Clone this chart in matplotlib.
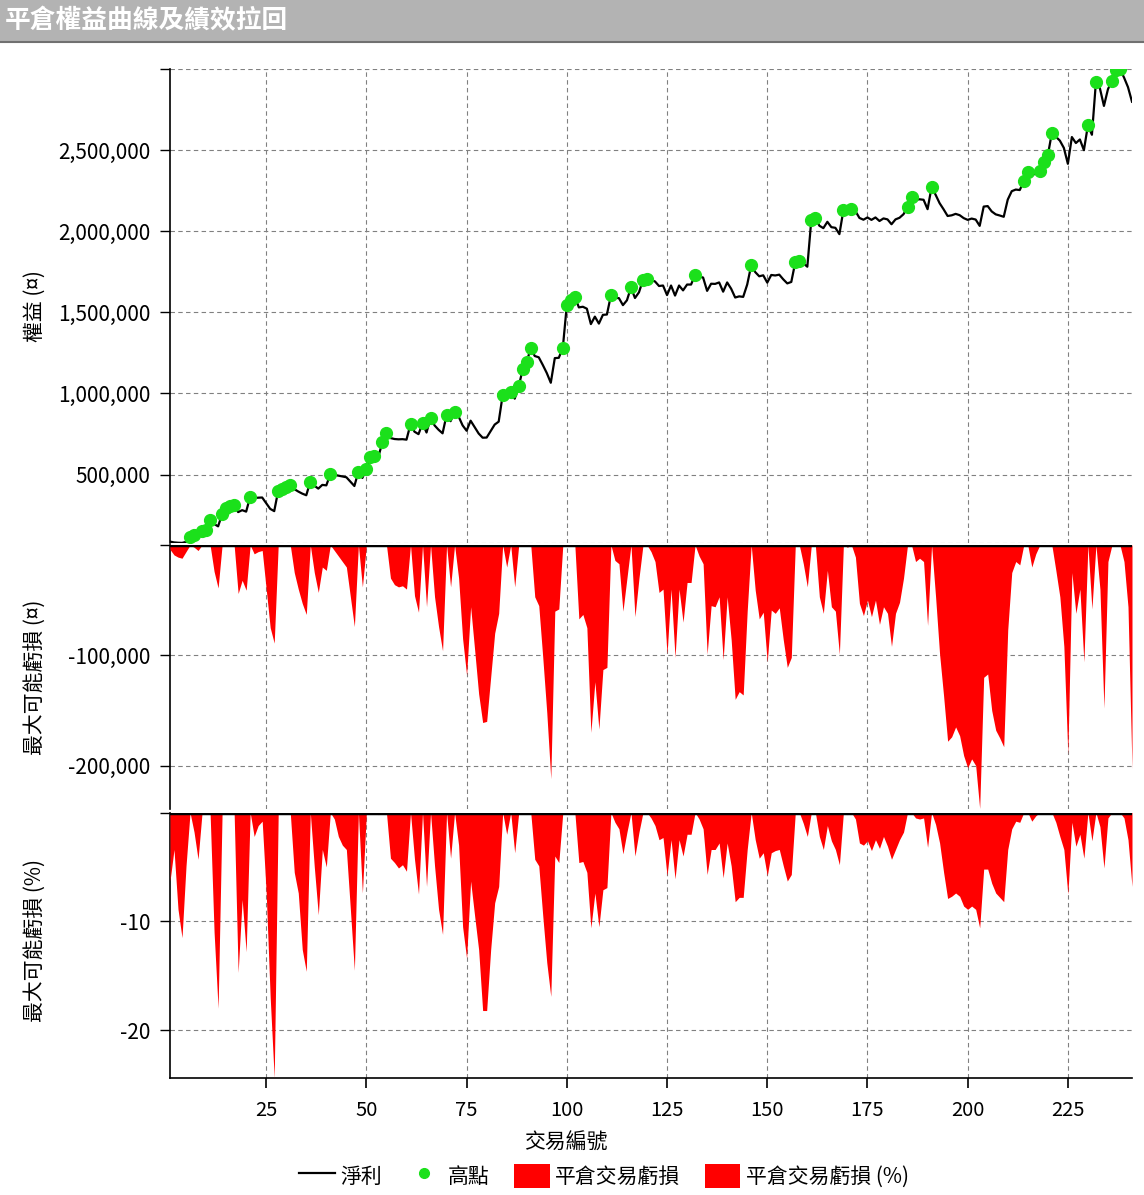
import matplotlib
matplotlib.use('Agg')
import matplotlib.pyplot as plt
from matplotlib.lines import Line2D
from matplotlib.patches import Patch, Rectangle

plt.rcParams['font.family'] = ['Noto Sans CJK TC', 'DejaVu Sans']

# net profit after each closed trade, in thousands
equity_k = [
    86, 81, 79, 78, 84, 116, 125, 120, 150, 157,
    219, 195, 180, 256, 293, 305, 312, 268, 280, 271,
    363, 355, 357, 358, 323, 288, 274, 400, 410, 425,
    435, 410, 395, 382, 372, 456, 431, 413, 436, 433,
    503, 498, 493, 488, 483, 456, 429, 517, 479, 534,
    608, 612, 611, 700, 755, 725, 719, 717, 718, 715,
    810, 764, 749, 815, 759, 850, 803, 776, 754, 867,
    829, 888, 858, 803, 770, 832, 793, 753, 727, 728,
    768, 808, 826, 990, 970, 1006, 968, 1043, 1150, 1197,
    1278, 1231, 1223, 1176, 1126, 1066, 1218, 1220, 1282, 1545,
    1578, 1598, 1531, 1535, 1523, 1428, 1474, 1431, 1485, 1487,
    1605, 1591, 1588, 1545, 1575, 1654, 1589, 1624, 1700, 1706,
    1700, 1691, 1663, 1666, 1607, 1666, 1604, 1666, 1636, 1672,
    1672, 1732, 1722, 1715, 1633, 1677, 1676, 1685, 1628, 1685,
    1646, 1592, 1599, 1596, 1672, 1790, 1749, 1723, 1729, 1684,
    1731, 1728, 1733, 1704, 1679, 1688, 1810, 1820, 1803, 1782,
    2072, 2082, 2035, 2020, 2059, 2026, 2022, 1983, 2130, 2128,
    2136, 2125, 2083, 2072, 2086, 2071, 2086, 2064, 2080, 2074,
    2044, 2074, 2084, 2106, 2150, 2210, 2195, 2198, 2195, 2137,
    2273, 2226, 2174, 2136, 2095, 2099, 2108, 2100, 2082, 2071,
    2079, 2073, 2034, 2153, 2156, 2123, 2105, 2098, 2090, 2196,
    2248, 2258, 2255, 2309, 2366, 2346, 2358, 2370, 2428, 2469,
    2607, 2584, 2560, 2515, 2417, 2582, 2545, 2567, 2501, 2654,
    2596, 2922, 2882, 2774, 2877, 2930, 2995, 3000, 2950, 2890,
    2800,
]

# trades that made a new equity high (green dots)
high_trades = [6, 7, 9, 10, 11, 14, 15, 16, 17, 21, 28, 29, 30, 31, 36, 41,
               48, 50, 51, 52, 54, 55, 61, 64, 66, 70, 72, 84, 86, 88, 89, 90,
               91, 99, 100, 101, 102, 111, 116, 119, 120, 132, 146, 157, 158,
               161, 162, 169, 171, 185, 186, 191, 214, 215, 218, 219, 220,
               221, 230, 232, 236, 237, 238]

# close trade drawdown, in thousands
drawdown_k = [
    -4, -9, -11, -12, -6, 0, -2, -5, 0, 0,
    0, -24, -39, 0, 0, 0, 0, -44, -32, -41,
    0, -8, -6, -5, -40, -75, -89, 0, 0, 0,
    0, -25, -40, -53, -63, 0, -25, -43, -20, -23,
    0, -5, -10, -15, -20, -47, -74, 0, -38, 0,
    0, 0, -1, 0, 0, -30, -36, -38, -37, -40,
    0, -46, -61, 0, -56, 0, -47, -74, -96, 0,
    -38, 0, -30, -85, -118, -56, -95, -135, -161, -160,
    -120, -80, -62, 0, -20, 0, -38, 0, 0, 0,
    0, -47, -55, -102, -152, -212, -60, -58, 0, 0,
    0, 0, -67, -63, -75, -170, -124, -167, -113, -111,
    0, -14, -17, -60, -30, 0, -65, -30, 0, 0,
    -6, -15, -43, -40, -99, -40, -102, -40, -70, -34,
    -34, 0, -10, -17, -99, -55, -56, -47, -104, -47,
    -86, -140, -133, -136, -60, 0, -41, -67, -61, -106,
    -59, -62, -57, -86, -111, -102, 0, 0, -17, -38,
    0, 0, -47, -62, -23, -56, -60, -99, 0, -2,
    0, -11, -53, -64, -50, -65, -50, -72, -56, -62,
    -92, -62, -52, -30, 0, 0, -15, -12, -15, -73,
    0, -47, -99, -137, -178, -174, -165, -173, -191, -202,
    -194, -200, -239, -120, -117, -150, -168, -175, -183, -77,
    -25, -15, -18, 0, 0, -20, -8, 0, 0, 0,
    0, -23, -47, -92, -190, -25, -62, -40, -106, 0,
    -58, 0, -40, -148, -15, 0, 0, 0, -15, -56,
    -203,
]

# close trade drawdown, percent
drawdown_pct = [
    -6.3, -3.4, -8.9, -11.5, -4.9, 0, -1.8, -4.3, 0, 0,
    0, -11.0, -18.0, 0, 0, 0, 0, -14.7, -8.0, -12.8,
    0, -2.2, -1.2, -0.8, -7.4, -17.0, -24.4, 0, 0, 0,
    0, -5.5, -7.4, -12.6, -14.6, 0, -5.0, -9.4, -3.4, -5.0,
    0, -0.6, -2.2, -3.0, -3.4, -8.9, -14.5, 0, -7.4, 0,
    0, 0, -0.2, 0, 0, -4.2, -4.6, -5.1, -4.8, -5.4,
    0, -4.3, -7.5, 0, -6.8, 0, -4.9, -8.9, -11.2, 0,
    -4.2, 0, -3.0, -10.5, -13.4, -6.3, -9.5, -12.6, -18.2, -18.2,
    -12.6, -8.3, -6.8, 0, -2.0, 0, -3.7, 0, 0, 0,
    0, -4.3, -4.9, -9.5, -13.8, -16.9, -4.0, -4.6, 0, 0,
    0, 0, -4.6, -4.5, -5.5, -10.6, -7.4, -10.5, -7.1, -6.9,
    0, -0.9, -1.5, -3.8, -1.8, 0, -4.0, -1.8, 0, 0,
    -0.5, -1.2, -2.5, -2.3, -5.8, -2.5, -6.1, -2.5, -4.0, -2.0,
    -2.0, 0, -0.6, -1.5, -5.7, -3.4, -3.4, -2.8, -6.0, -2.8,
    -4.9, -8.2, -7.8, -7.8, -3.4, 0, -2.5, -4.2, -3.7, -5.8,
    -3.7, -3.5, -3.4, -4.9, -6.3, -5.7, 0, 0, -1.0, -2.2,
    0, 0, -2.2, -3.4, -1.2, -2.6, -3.4, -4.8, 0, -0.2,
    0, -0.6, -2.8, -3.0, -2.6, -3.5, -2.5, -3.3, -2.2, -3.1,
    -4.3, -3.4, -2.5, -1.8, 0, 0, -0.5, -0.6, -0.5, -3.2,
    0, -1.1, -2.8, -5.5, -7.9, -7.7, -7.4, -7.7, -8.6, -8.9,
    -8.6, -8.9, -10.6, -5.2, -5.2, -6.5, -7.4, -7.8, -8.2, -3.4,
    -1.5, -0.8, -0.9, 0, 0, -0.8, -0.3, 0, 0, 0,
    0, -0.9, -2.2, -3.4, -7.5, -0.9, -3.1, -2.0, -4.2, 0,
    -2.6, 0, -1.3, -5.1, -0.5, 0, 0, 0, -0.5, -2.5,
    -6.8,
]

x_ticks = [25, 50, 75, 100, 125, 150, 175, 200, 225]
equity_ticks = [500000, 1000000, 1500000, 2000000, 2500000, 3000000]
dd_ticks = [-200000, -100000, 0]
pct_ticks = [-20, -10, 0]

trades = list(range(1, len(equity_k) + 1))
equity = [v * 1000 for v in equity_k]
drawdown = [v * 1000 for v in drawdown_k]
high_vals = [equity[t - 1] for t in high_trades]

W, H = 1144, 1195
fig = plt.figure(figsize=(W / 100, H / 100), dpi=100)

# gray title bar
fig.patches.append(Rectangle((0, 1 - 42 / H), 1, 42 / H, transform=fig.transFigure,
                             facecolor='#b3b3b3', edgecolor='none'))
fig.lines.append(Line2D([0, 1], [1 - 42 / H, 1 - 42 / H], transform=fig.transFigure,
                        color='#707070', lw=1.5))
fig.text(5 / W, 1 - 21 / H, '平倉權益曲線及績效拉回', color='white', fontsize=18.5,
         fontweight='bold', va='center', ha='left')


def px_axes(top, bottom, left=170, right=1132):
    return [left / W, 1 - bottom / H, (right - left) / W, (bottom - top) / H]


ax1 = fig.add_axes(px_axes(69.3, 542.9))
ax2 = fig.add_axes(px_axes(545, 808.5))
ax3 = fig.add_axes(px_axes(812.5, 1078))

green = '#1be01b'
grid_kw = dict(color='#808080', linestyle=(0, (4, 3)), linewidth=0.8)

for ax in (ax1, ax2, ax3):
    ax.set_xlim(1, len(trades))
    ax.set_xticks(x_ticks)
    ax.grid(True, **grid_kw)
    ax.set_axisbelow(True)
    for s in ('top', 'right'):
        ax.spines[s].set_visible(False)
    ax.spines['left'].set_linewidth(1.2)
    ax.tick_params(axis='y', direction='out', length=7, width=1, pad=7, labelsize=15)

for ax in (ax1, ax2):
    ax.spines['bottom'].set_visible(False)
    ax.tick_params(axis='x', length=0, labelbottom=False)

# equity panel
ax1.plot(trades, equity, color='black', lw=1.6, zorder=3)
ax1.plot(high_trades, high_vals, 'o', color=green, markersize=8.5, zorder=4)
ax1.set_ylim(min(equity), max(equity))
ax1.set_yticks(equity_ticks)
ax1.set_yticklabels([f'{v:,}' for v in equity_ticks[:-1]] + [''])
ax1.axhline(min(equity), **grid_kw)

# drawdown amount panel
ax2.fill_between(trades, drawdown, 0, color='#ff0000', linewidth=0, zorder=3)
ax2.axhline(0, color='black', lw=2.5, zorder=4)
ax2.set_ylim(min(drawdown), 0)
ax2.set_yticks(dd_ticks)
ax2.set_yticklabels([f'{v:,}' for v in dd_ticks[:-1]] + [''])

# drawdown percent panel
ax3.fill_between(trades, drawdown_pct, 0, color='#ff0000', linewidth=0, zorder=3)
ax3.axhline(0, color='black', lw=2.5, zorder=4)
ax3.set_ylim(min(drawdown_pct), 0)
ax3.set_yticks(pct_ticks)
ax3.set_yticklabels([str(v) for v in pct_ticks[:-1]] + [''])
ax3.spines['bottom'].set_linewidth(1.2)
ax3.tick_params(axis='x', direction='out', length=7, width=1.2, pad=9, labelsize=14.5)

# axis labels
fig.text(35 / W, 1 - 306 / H, '權益 (¤)', rotation=90, ha='center', va='center', fontsize=15)
fig.text(35 / W, 1 - 677 / H, '最大可能虧損 (¤)', rotation=90, ha='center', va='center', fontsize=15)
fig.text(35 / W, 1 - 940 / H, '最大可能虧損 (%)', rotation=90, ha='center', va='center', fontsize=15)
fig.text(566 / W, 1 - 1143 / H, '交易編號', ha='center', va='center', fontsize=15)

handles = [
    Line2D([], [], color='black', lw=1.6, label='淨利'),
    Line2D([], [], color=green, marker='o', ls='none', markersize=7, label='高點'),
    Patch(facecolor='#ff0000', label='平倉交易虧損'),
    Patch(facecolor='#ff0000', label='平倉交易虧損 (%)'),
]
fig.legend(handles=handles, loc='center', bbox_to_anchor=(604 / W, 1 - 1176 / H),
           ncol=4, frameon=False, fontsize=15, handlelength=1.7, handleheight=1.4,
           handletextpad=0.25, columnspacing=1.2, borderpad=0)

fig.savefig('out.png', dpi=100)
